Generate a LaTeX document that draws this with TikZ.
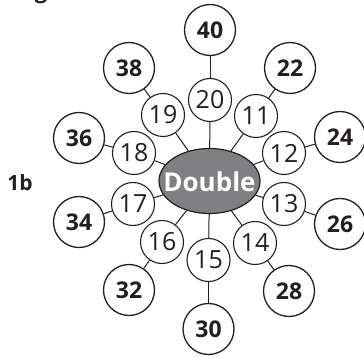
\documentclass[tikz,border=0pt]{standalone}
\usepackage{fontspec}
\setmainfont{Open Sans}
\usetikzlibrary{shapes.geometric}
\definecolor{ink}{HTML}{231F20}
\definecolor{blobgray}{HTML}{808083}
\tikzset{
  outer/.style={circle, draw=ink, line width=1.3pt, minimum size=51pt, inner sep=0pt,
    font=\fontsize{23}{23}\selectfont\bfseries, text=ink},
  inner/.style={circle, draw=ink, line width=1.1pt, minimum size=43pt, inner sep=0pt,
    font=\fontsize{25}{25}\selectfont, text=ink},
  spoke/.style={draw=ink, line width=1pt}
}
\begin{document}
\begin{tikzpicture}[x=1pt,y=-1pt]
    \useasboundingbox (0,0) rectangle (364,358);
    \clip (0,0) rectangle (364,358);

    % Heading cut off at the top and the label
    \node[anchor=base, font=\fontsize{22}{22}\selectfont\bfseries, text=ink] (head) at (41,-1.5) {g};
    \node[font=\fontsize{21}{21}\selectfont\bfseries, text=ink] (lbl) at (20,183) {1b};

    % Centre
    \node[ellipse, draw=ink, line width=1.2pt, fill=blobgray, minimum width=101pt, minimum height=65pt, inner sep=0pt] (dbl) at (209.5,181) {};
    \node[font=\fontsize{26}{26}\selectfont\bfseries, text=white] (dbltxt) at (209.5,182) {Double};

    % Inner ring
    \node[inner] (n20) at (210,100) {20};
    \node[inner] (n19) at (163,115) {19};
    \node[inner] (n18) at (134,153) {18};
    \node[inner] (n17) at (133,204) {17};
    \node[inner] (n16) at (162,242) {16};
    \node[inner] (n15) at (208.5,260) {15};
    \node[inner] (n14) at (255,243) {14};
    \node[inner] (n13) at (284,204) {13};
    \node[inner] (n12) at (284,153) {12};
    \node[inner] (n11) at (256,116) {11};

    % Outer ring
    \node[outer] (n40) at (210,30) {40};
    \node[outer] (n38) at (129,68) {38};
    \node[outer] (n36) at (79,138) {36};
    \node[outer] (n34) at (79,222) {34};
    \node[outer] (n32) at (129,290) {32};
    \node[outer] (n30) at (208.5,329) {30};
    \node[outer] (n28) at (289,291) {28};
    \node[outer] (n26) at (340,224) {26};
    \node[outer] (n24) at (340,137) {24};
    \node[outer] (n22) at (290,68) {22};

    % Spokes
    \draw[spoke] (dbl) -- (n20);
    \draw[spoke] (dbl) -- (n19);
    \draw[spoke] (dbl) -- (n18);
    \draw[spoke] (dbl) -- (n17);
    \draw[spoke] (dbl) -- (n16);
    \draw[spoke] (dbl) -- (n15);
    \draw[spoke] (dbl) -- (n14);
    \draw[spoke] (dbl) -- (n13);
    \draw[spoke] (dbl) -- (n12);
    \draw[spoke] (dbl) -- (n11);

    \draw[spoke] (n20) -- (n40);
    \draw[spoke] (n19) -- (n38);
    \draw[spoke] (n18) -- (n36);
    \draw[spoke] (n17) -- (n34);
    \draw[spoke] (n16) -- (n32);
    \draw[spoke] (n15) -- (n30);
    \draw[spoke] (n14) -- (n28);
    \draw[spoke] (n13) -- (n26);
    \draw[spoke] (n12) -- (n24);
    \draw[spoke] (n11) -- (n22);
\end{tikzpicture}
\end{document}
